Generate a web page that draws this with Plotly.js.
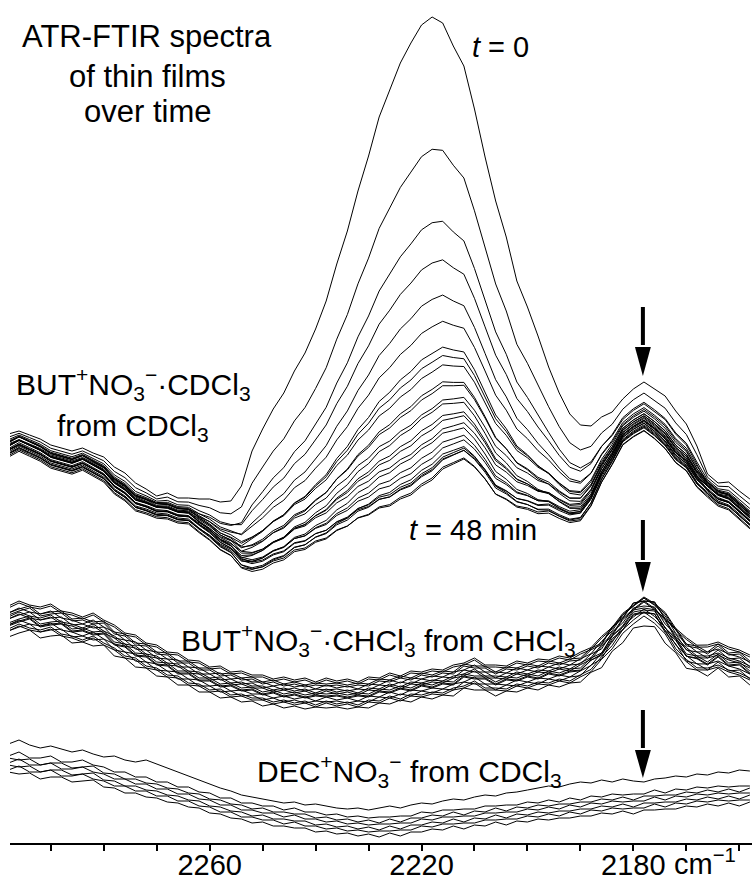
<!DOCTYPE html>
<html>
<head>
<meta charset="utf-8">
<script src="https://cdn.plot.ly/plotly-3.0.1.min.js"></script>
<style>
  html, body { margin: 0; padding: 0; background: #fff; }
  #chart { width: 752px; height: 881px; }
</style>
</head>
<body>
<div id="chart"></div>
<script>
// Wavenumber grid (cm^-1), shared by every spectrum
const wavenumbers = [
  2298, 2296, 2294, 2292, 2290, 2288, 2286, 2284, 2282, 2280,
  2278, 2276, 2274, 2272, 2270, 2268, 2266, 2264, 2262, 2260,
  2258, 2256, 2254, 2252, 2250, 2248, 2246, 2244, 2242, 2240,
  2238, 2236, 2234, 2232, 2230, 2228, 2226, 2224, 2222, 2220,
  2218, 2216, 2214, 2212, 2210, 2208, 2206, 2204, 2202, 2200,
  2198, 2196, 2194, 2192, 2190, 2188, 2186, 2184, 2182, 2180,
  2178, 2176, 2174, 2172, 2170, 2168, 2166, 2164, 2162, 2160,
  2158
];

// BUT+NO3-·CDCl3 film: final spectrum (t = 48 min), offset absorbance units
const cdBaseline = [
  391, 397, 392, 387, 380, 377, 374, 378, 372, 366,
  354, 347, 337, 334, 330, 329, 325, 324, 315, 307,
  297, 291, 278, 274, 276, 282, 285, 293, 295, 302,
  305, 313, 317, 325, 328, 335, 337, 344, 348, 357,
  363, 374, 379, 384, 376, 364, 349, 344, 337, 335,
  331, 332, 327, 323, 325, 340, 364, 382, 402, 410,
  416, 408, 398, 384, 376, 360, 351, 342, 338, 329,
  319
];
// Decaying band: t = 0 spectrum minus t = 48 min spectrum
const cdBand = [
  18, 15, 16, 17, 18, 18, 18, 17, 18, 20,
  22, 23, 23, 20, 17, 21, 20, 21, 29, 37,
  44, 51, 79, 118, 138, 152, 165, 179, 195, 212,
  237, 266, 295, 327, 359, 391, 417, 436, 452, 461,
  463, 446, 418, 393, 358, 322, 293, 262, 225, 201,
  176, 144, 123, 106, 93, 77, 62, 49, 42, 44,
  45, 46, 49, 48, 43, 37, 18, 18, 23, 23,
  25
];
// Time of each spectrum (min) and the fraction of the band still present
const cdTimes = [0, 2, 4, 6, 8, 10, 12, 14, 16, 18, 20, 22, 24, 26, 28, 30, 32, 34, 36, 38, 40, 42, 44, 46, 48];
const cdBandRemaining = [1, 0.71, 0.56, 0.46, 0.39, 0.32, 0.28, 0.25, 0.22, 0.20, 0.18, 0.157, 0.139, 0.12, 0.10, 0.087, 0.072, 0.058, 0.047, 0.036, 0.027, 0.02, 0.013, 0.007, 0];
const cdShift = [0, 2, -2, 4, 0, 5, -3, 2, 6, -2, 3, -5, 7, 0, 4, -3, 8, 1, -6, 5, -2, 3, -4, 6, 0];

// BUT+NO3-·CHCl3 film: two recorded traces of the bundle
const chBaselineA = [
  223, 228, 224, 222, 225, 218, 216, 212, 216, 209,
  204, 196, 194, 186, 184, 177, 176, 169, 168, 162,
  163, 157, 158, 154, 154, 150, 152, 149, 151, 147,
  151, 148, 150, 147, 152, 151, 156, 153, 158, 157,
  160, 159, 164, 166, 171, 164, 164, 163, 168, 166,
  170, 169, 173, 171, 177, 182, 194, 204, 219, 228,
  236, 229, 219, 202, 192, 184, 184, 187, 182, 179,
  174
];
const chBaselineB = [
  220, 224, 227, 219, 221, 222, 214, 215, 211, 212,
  201, 199, 190, 189, 181, 180, 172, 172, 165, 165,
  159, 160, 155, 156, 151, 153, 149, 151, 148, 150,
  149, 150, 148, 150, 149, 154, 153, 157, 155, 160,
  158, 162, 161, 169, 167, 167, 161, 166, 165, 169,
  167, 172, 170, 174, 175, 185, 190, 207, 216, 231,
  233, 232, 215, 205, 189, 187, 181, 189, 180, 181,
  172
];
const chTraceType = ['A', 'B', 'A', 'B', 'A', 'B', 'A', 'B', 'A', 'B', 'A', 'B', 'A', 'B', 'A', 'B'];
const chShift = [14, 10, 7, 4, 1, -2, -5, -8, -11, -14, 12, 8, 3, -3, -9, 0];
// 2178 cm^-1 band: relative profile and per-spectrum excess intensity
const chNitrileProfile = { 2190: 0.05, 2188: 0.15, 2186: 0.35, 2184: 0.6, 2182: 0.85, 2180: 1, 2178: 1, 2176: 0.85, 2174: 0.6, 2172: 0.35, 2170: 0.15, 2168: 0.05 };
const chNitrileExcess = [-4, -1, 2, 0, 4, -1, 3, 6, 2, -2, -3, 1, 3, 5, 4, 0];

// DEC+NO3- film from CDCl3: the upper spectrum and two traces of the lower bundle
const decUpper = [
  99, 103, 98, 95, 97, 94, 91, 93, 89, 86,
  87, 83, 81, 83, 79, 75, 71, 67, 63, 59,
  55, 52, 48, 46, 44, 42, 40, 41, 38, 39,
  37, 35, 34, 35, 33, 35, 37, 35, 38, 40,
  39, 42, 44, 43, 46, 48, 47, 50, 51, 53,
  55, 57, 56, 59, 61, 60, 63, 61, 64, 62,
  61, 64, 65, 67, 66, 69, 68, 71, 70, 73,
  72
];
const decBaselineA = [
  78, 82, 76, 76, 78, 72, 72, 74, 69, 67,
  62, 62, 57, 57, 52, 52, 47, 47, 42, 41,
  36, 36, 31, 31, 28, 28, 24, 26, 22, 22,
  19, 20, 17, 18, 16, 17, 17, 18, 18, 22,
  21, 24, 24, 25, 25, 28, 28, 29, 29, 32,
  31, 34, 32, 36, 34, 38, 37, 40, 39, 40,
  40, 44, 41, 45, 44, 47, 46, 48, 47, 48,
  48
];
const decBaselineB = [
  80, 78, 79, 73, 75, 75, 70, 71, 72, 65,
  64, 59, 59, 55, 54, 50, 49, 45, 44, 39,
  38, 34, 33, 29, 30, 26, 26, 24, 24, 20,
  21, 18, 19, 16, 18, 15, 19, 16, 20, 20,
  23, 22, 26, 23, 27, 26, 30, 27, 31, 30,
  33, 32, 34, 34, 36, 36, 39, 38, 41, 38,
  42, 42, 43, 43, 46, 45, 48, 46, 49, 46,
  50
];
const decTraceType = ['A', 'B', 'A', 'B', 'A', 'B'];
const decShift = [9, 5, 2, -2, -5, -9];

// Arrows marking the 2178 cm^-1 band in each film
const arrowWavenumber = 2178.2;
const arrowLevels = [
  { top: 536, headBase: 496, tip: 467 },
  { top: 323, headBase: 281, tip: 251 },
  { top: 133, headBase: 93, tip: 65 }
];

const FONT = 'Liberation Sans, Arial, Helvetica, sans-serif';
const X_RANGE = [2297.7, 2157.6];
const Y_RANGE = [0, 843];
const PLOT = { left: 10, width: 742, top: 0, height: 843 };

function lineTrace(y) {
  return {
    x: wavenumbers, y: y, type: 'scatter', mode: 'lines',
    line: { color: '#000', width: 1 }, hoverinfo: 'skip', showlegend: false
  };
}

const traces = [];
cdBandRemaining.forEach((frac, i) => {
  traces.push(lineTrace(cdBaseline.map((b, j) => b + frac * cdBand[j] + cdShift[i])));
});
chShift.forEach((s, i) => {
  const base = chTraceType[i] === 'A' ? chBaselineA : chBaselineB;
  traces.push(lineTrace(base.map((b, j) => b + s + chNitrileExcess[i] * (chNitrileProfile[wavenumbers[j]] || 0))));
});
traces.push(lineTrace(decUpper));
decShift.forEach((s, i) => {
  const base = decTraceType[i] === 'A' ? decBaselineA : decBaselineB;
  traces.push(lineTrace(base.map(b => b + s)));
});

// Arrow shapes
const shapes = [];
const half = 1.5;
arrowLevels.forEach(a => {
  shapes.push({ type: 'line', xref: 'x', yref: 'y', x0: arrowWavenumber, x1: arrowWavenumber, y0: a.top, y1: a.headBase + 2, line: { color: '#000', width: 4 } });
  shapes.push({ type: 'path', xref: 'x', yref: 'y',
    path: `M ${arrowWavenumber - half},${a.headBase} L ${arrowWavenumber + half},${a.headBase} L ${arrowWavenumber},${a.tip} Z`,
    fillcolor: '#000', line: { width: 0 } });
});

// Text placed in pixel terms of the page
function label(text, px, py, size, anchor, vanchor) {
  return {
    text: text, xref: 'paper', yref: 'paper',
    x: (px - PLOT.left) / PLOT.width, y: (PLOT.height - py) / PLOT.height,
    xanchor: anchor || 'center', yanchor: vanchor || 'middle', showarrow: false,
    font: { family: FONT, size: size, color: '#000' }
  };
}

const annotations = [
  label('ATR-FTIR spectra', 147, 37, 31),
  label('of thin films', 147, 76, 31),
  label('over time', 147, 111, 31),
  label('<i>t</i> = 0', 470, 47, 29, 'left'),
  label('BUT<sup>+</sup>NO<sub>3</sub><sup>\u2212</sup>\u00b7CDCl<sub>3</sub>', 133, 407, 30, 'center', 'bottom'),
  label('from CDCl<sub>3</sub>', 133, 407, 30, 'center', 'top'),
  label('<i>t</i> = 48 min', 407, 530, 29, 'left'),
  label('BUT<sup>+</sup>NO<sub>3</sub><sup>\u2212</sup>\u00b7CHCl<sub>3</sub> from CHCl<sub>3</sub>', 378, 640, 30),
  label('DEC<sup>+</sup>NO<sub>3</sub><sup>\u2212</sup> from CDCl<sub>3</sub>', 410, 771, 30),
  label('cm<sup>\u22121</sup>', 672, 862, 29, 'left')
];

const layout = {
  width: 752, height: 881,
  margin: { l: PLOT.left, r: 0, t: PLOT.top, b: 881 - PLOT.height, pad: 0 },
  paper_bgcolor: '#fff', plot_bgcolor: '#fff',
  showlegend: false,
  xaxis: {
    range: X_RANGE, showgrid: false, zeroline: false,
    showline: true, linecolor: '#000', linewidth: 2,
    ticks: 'outside', ticklen: 6, tickwidth: 2, tickcolor: '#000',
    tickmode: 'linear', tick0: 2180, dtick: 40,
    ticklabelstandoff: -11,
    minor: { tickmode: 'linear', tick0: 2180, dtick: 10, ticks: 'outside', ticklen: 6, tickwidth: 2, tickcolor: '#000', showgrid: false },
    tickfont: { family: FONT, size: 29, color: '#000' }
  },
  yaxis: { range: Y_RANGE, visible: false, showgrid: false, zeroline: false },
  shapes: shapes,
  annotations: annotations
};

Plotly.newPlot('chart', traces, layout, { staticPlot: true, displayModeBar: false });
</script>
</body>
</html>
